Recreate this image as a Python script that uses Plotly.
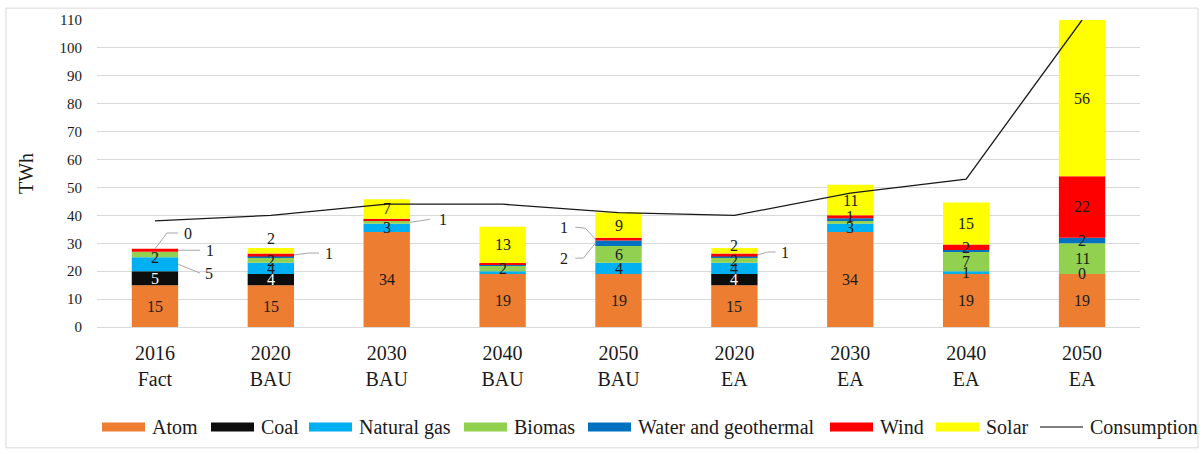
import plotly.graph_objects as go

# Electricity generation by source and scenario, TWh
categories = ["2016<br>Fact", "2020<br>BAU", "2030<br>BAU", "2040<br>BAU", "2050<br>BAU",
              "2020<br>EA", "2030<br>EA", "2040<br>EA", "2050<br>EA"]
atom = [15, 15, 34, 19, 19, 15, 34, 19, 19]
coal = [5, 4, 0, 0, 0, 4, 0, 0, 0]
natural_gas = [5, 4, 3, 1, 4, 4, 3, 1, 0]
biomas = [2, 2, 1, 2, 6, 2, 1, 7, 11]
water_geothermal = [0, 0.3, 0.3, 0.4, 2, 0.3, 1, 0.6, 2]
wind = [1, 1, 0.5, 0.5, 1, 1, 1, 2, 22]
solar = [0, 2, 7, 13, 9, 2, 11, 15, 56]
consumption = [38, 40, 44, 44, 41, 40, 48, 53, 110]

series = [
    ("Atom", atom, "#ED7D31"),
    ("Coal", coal, "#0D0D0D"),
    ("Natural gas", natural_gas, "#00B0F0"),
    ("Biomas", biomas, "#92D050"),
    ("Water and geothermal", water_geothermal, "#0070C0"),
    ("Wind", wind, "#FF0000"),
    ("Solar", solar, "#FFFF00"),
]

# which segments carry a centred value label
inside_labels = {
    "Atom": list(range(9)),
    "Coal": [0, 1, 5],
    "Natural gas": [1, 2, 4, 5, 6, 7, 8],
    "Biomas": [0, 1, 3, 4, 5, 7, 8],
    "Water and geothermal": [8],
    "Wind": [6, 7, 8],
    "Solar": [1, 2, 3, 4, 5, 6, 7, 8],
}
label_shift_px = {("Solar", 1): 12, ("Solar", 5): 5, ("Biomas", 0): -3}

# labels drawn beside the bar with a leader line:
# (category, series, anchor, leader points in px, text offset in px)
leaders = [
    (0, "Natural gas", "right", [(0, 0), (22, 9)], (31, 9)),
    (0, "Wind", "right", [(0, 0), (22, 0)], (32, 0)),
    (0, "Solar", "top", [(0, 0), (12, -16), (23, -16)], (33, -16)),
    (1, "Wind", "right", [(0, 0), (15, -2), (25, -2)], (35, -2)),
    (2, "Biomas", "right", [(0, 0), (20, -3)], (33, -3)),
    (4, "Water and geothermal", "left", [(0, 0), (-12, 15), (-20, 15)], (-31, 15)),
    (4, "Wind", "left", [(0, 0), (-10, -11), (-20, -12)], (-31, -12)),
    (5, "Wind", "right", [(0, 0), (10, -3), (18, -3)], (27, -3)),
]

FONT = "Liberation Serif, Times New Roman, serif"
TEXT = "#1a1a1a"
W, H = 1203, 454
ML, MR, MT, MB = 97, 63, 17, 127
PW, PH = W - ML - MR, H - MT - MB
YMAX = 110
BAR_W = 0.4
xs = list(range(len(categories)))
px_x = PW / len(categories)   # pixels per category unit
px_y = PH / YMAX              # pixels per TWh

# legend row: left edge of each key (px) and its vertical centre
LEGEND_KEY_X = [102, 211, 309, 464, 588, 830, 936, 1040]
LEGEND_Y = 428
KEY_W, KEY_H, KEY_TEXT_GAP = 43, 9, 5


def paper_x(px):
    return (px - ML) / PW


def paper_y(py):
    return (MT + PH - py) / PH


fig = go.Figure()

# stacked bars and the running base of each segment
bases = {}
running = [0] * len(xs)
for name, vals, color in series:
    bases[name] = list(running)
    fig.add_trace(go.Bar(
        x=xs, y=vals, base=running, width=BAR_W, name=name,
        marker=dict(color=color, line=dict(width=0)),
        showlegend=False, hoverinfo="name+y",
    ))
    running = [r + v for r, v in zip(running, vals)]

values = {name: vals for name, vals, _ in series}


def fmt(v):
    return f"{v:.0f}"


annotations = []
for name, vals, color in series:
    for i in inside_labels[name]:
        mid = bases[name][i] + vals[i] / 2
        annotations.append(dict(
            x=i, y=mid, xref="x", yref="y", text=fmt(vals[i]), showarrow=False,
            yshift=label_shift_px.get((name, i), 0),
            font=dict(family=FONT, size=16, color="#FFFFFF" if name == "Coal" else TEXT),
        ))

shapes = []
for i, name, side, pts, toff in leaders:
    v = values[name][i]
    if side == "top":
        ax, ay = i, bases[name][i] + v
    else:
        ax = i + (BAR_W / 2 if side == "right" else -BAR_W / 2)
        ay = bases[name][i] + v / 2
    coords = [(ax + dx / px_x, ay - dy / px_y) for dx, dy in pts]
    path = "M" + " L".join(f"{cx:.4f},{cy:.4f}" for cx, cy in coords)
    shapes.append(dict(type="path", xref="x", yref="y", path=path,
                       line=dict(color="#A6A6A6", width=1)))
    annotations.append(dict(
        x=ax + toff[0] / px_x, y=ay - toff[1] / px_y, xref="x", yref="y",
        text=fmt(v), showarrow=False,
        font=dict(family=FONT, size=16, color=TEXT),
    ))

# consumption line
fig.add_trace(go.Scatter(
    x=xs, y=consumption, mode="lines", name="Consumption",
    line=dict(color="#1a1a1a", width=1.3), showlegend=False, cliponaxis=True,
))

# legend row below the axis
legend_items = [(name, color, "box") for name, _, color in series] + [("Consumption", "#000000", "line")]
for (name, color, kind), kx in zip(legend_items, LEGEND_KEY_X):
    if kind == "box":
        shapes.append(dict(
            type="rect", xref="paper", yref="paper",
            x0=paper_x(kx), x1=paper_x(kx + KEY_W),
            y0=paper_y(LEGEND_Y + KEY_H / 2), y1=paper_y(LEGEND_Y - KEY_H / 2),
            fillcolor=color, line=dict(width=0),
        ))
    else:
        shapes.append(dict(
            type="line", xref="paper", yref="paper",
            x0=paper_x(kx), x1=paper_x(kx + KEY_W),
            y0=paper_y(LEGEND_Y), y1=paper_y(LEGEND_Y),
            line=dict(color=color, width=1.2),
        ))
    annotations.append(dict(
        x=paper_x(kx + KEY_W + KEY_TEXT_GAP), y=paper_y(LEGEND_Y),
        xref="paper", yref="paper", xanchor="left", yanchor="middle",
        text=name, showarrow=False,
        font=dict(family=FONT, size=20, color=TEXT),
    ))

# outer chart frame
shapes.append(dict(
    type="rect", xref="paper", yref="paper", layer="below",
    x0=paper_x(6), x1=paper_x(1198), y0=paper_y(449), y1=paper_y(5),
    line=dict(color="#D9D9D9", width=1), fillcolor="rgba(0,0,0,0)",
))

fig.update_layout(
    width=W, height=H, autosize=False,
    margin=dict(l=ML, r=MR, t=MT, b=MB),
    paper_bgcolor="white", plot_bgcolor="white",
    barmode="overlay", showlegend=False,
    font=dict(family=FONT, color=TEXT),
    xaxis=dict(
        range=[-0.5, len(xs) - 0.5], tickmode="array", tickvals=xs, ticktext=categories,
        showgrid=False, zeroline=False, showline=True, linecolor="#D9D9D9", linewidth=1,
        ticks="", tickfont=dict(family=FONT, size=20, color=TEXT), ticklabelstandoff=8,
    ),
    yaxis=dict(
        range=[0, YMAX], dtick=10, showgrid=True, gridcolor="#D9D9D9", gridwidth=1,
        zeroline=False, showline=False, ticks="",
        tickfont=dict(family=FONT, size=15, color=TEXT), ticklabelstandoff=14,
        title=dict(text="TWh", font=dict(family=FONT, size=20, color=TEXT), standoff=20),
    ),
    shapes=shapes,
    annotations=annotations,
)

fig.write_html("out.html")
